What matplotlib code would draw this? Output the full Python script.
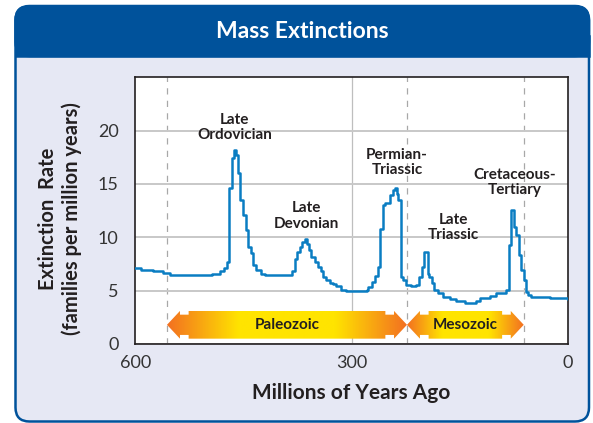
import numpy as np
import matplotlib
matplotlib.use("Agg")
import matplotlib.pyplot as plt
from matplotlib.patches import FancyBboxPatch, Rectangle, Polygon
from matplotlib.colors import LinearSegmentedColormap
from matplotlib.transforms import IdentityTransform

plt.rcParams['font.family'] = ['Lato', 'DejaVu Sans']

# extinction rate curve (millions of years ago, families per million years)
years = [600, 592, 576, 561, 552, 494, 483, 477, 473, 470, 466, 463, 460, 457,
         455, 450, 447, 443, 440, 437, 432, 426, 420, 382, 379, 376, 372, 369,
         365, 362, 359, 356, 351, 346, 343, 340, 335, 330, 326, 321, 314, 307,
         279, 277, 272, 268, 263, 260, 256, 253, 247, 243, 240, 237, 235, 232,
         229, 224, 217, 210, 206, 202, 199, 194, 193, 188, 185, 180, 173, 164,
         155, 143, 127, 122, 108, 99, 85, 81, 78, 74, 72, 68, 65, 61, 58, 55,
         51, 44, 25, 0]
rate = [7.1, 6.9, 6.8, 6.7, 6.45, 6.6, 6.8, 7.1, 7.7, 14.6, 17.4, 18.2, 17.7, 16.0,
        13.5, 12.1, 10.7, 9.1, 8.5, 7.4, 6.9, 6.6, 6.45, 6.8, 8.0, 8.65, 9.1, 9.6,
        9.8, 9.4, 8.8, 8.2, 7.7, 7.25, 6.8, 6.3, 6.0, 5.75, 5.6, 5.4, 5.1, 5.0,
        5.1, 5.35, 5.8, 6.35, 7.25, 10.8, 13.0, 13.2, 14.0, 14.4, 14.6, 14.1, 13.5, 6.3,
        6.0, 5.5, 5.4, 5.5, 6.3, 7.25, 8.65, 6.6, 6.3, 5.7, 5.1, 4.75, 4.45, 4.2,
        4.0, 3.8, 4.05, 4.3, 4.5, 4.75, 5.1, 9.3, 12.6, 11.0, 10.2, 8.3, 6.9, 6.0, 4.9, 4.6,
        4.45, 4.4, 4.28, 4.2]

events = ["Late\nOrdovician", "Late\nDevonian", "Permian-\nTriassic",
          "Late\nTriassic", "Cretaceous-\nTertiary"]
event_x = [462, 362, 237, 158, 74]
event_y = [20.3, 12.0, 17.0, 10.9, 15.1]

eras = ["Paleozoic", "Mesozoic"]
era_start = [556, 223]
era_end = [223, 61]

xticks = [600, 300, 0]
yticks = [0, 5, 10, 15, 20]

BLUE = "#00529B"
BG = "#E6E8F4"
LINE = "#0A7DC2"
INK = "#231F20"

fig = plt.figure(figsize=(5.93, 4.23), dpi=100)
fig.patch.set_facecolor("white")

# rounded panel with title band (pixel coordinates), kept behind the axes
px = IdentityTransform()
fig.add_artist(FancyBboxPatch((15.5, 1.5), 573.5, 415, boxstyle="round,pad=0,rounding_size=14",
                              transform=px, fc=BG, ec=BLUE, lw=1.8, zorder=-10))
fig.add_artist(FancyBboxPatch((15.5, 367), 573.5, 50, boxstyle="round,pad=0,rounding_size=14",
                              transform=px, fc=BLUE, ec=BLUE, lw=1.8, zorder=-9))
fig.add_artist(Rectangle((15.5, 367), 573.5, 20, transform=px, fc=BLUE, ec=BLUE, lw=1.8,
                         zorder=-9))
fig.text(0.51, 1 - 31 / 423, "Mass Extinctions", color="white", fontsize=16.5,
         fontweight="bold", ha="center", va="center")

ax = fig.add_axes([135.3 / 593, 1 - 344 / 423, 432.4 / 593, 266.7 / 423])
ax.set_facecolor("white")

ax.yaxis.grid(True, color="#C8C8C8", lw=1.4, zorder=0)
ax.axvline(300, color="#BEBEBE", lw=0.9, zorder=0)
for b in sorted(set(era_start + era_end)):
    ax.axvline(b, color="#A8A8A8", lw=0.9, ls=(0, (5, 5)), zorder=1)

ax.plot(years, rate, drawstyle="steps-post", color=LINE, lw=1.8, zorder=3)

for name, x, y in zip(events, event_x, event_y):
    ax.text(x, y, name, ha="center", va="center", fontsize=11, color=INK,
            fontweight="bold", linespacing=1.1)

# era arrows with orange-yellow-orange gradient
cmap = LinearSegmentedColormap.from_list(
    "era", [(0, "#F37021"), (0.3, "#FFE400"), (0.7, "#FFE400"), (1, "#F37021")])
grad = np.linspace(0, 1, 256).reshape(1, -1)
top, bot, notch = 3.1, 0.5, 0.35
mid = (top + bot) / 2
head, gap = 18, 30
for name, s, e in zip(eras, era_start, era_end):
    pts = [(s, mid), (s - head, top), (s - head, top - notch), (s - gap, top - notch),
           (s - gap, top), (e + gap, top), (e + gap, top - notch), (e + head, top - notch),
           (e + head, top), (e, mid), (e + head, bot), (e + head, bot + notch),
           (e + gap, bot + notch), (e + gap, bot), (s - gap, bot), (s - gap, bot + notch),
           (s - head, bot + notch), (s - head, bot)]
    poly = Polygon(pts, closed=True, fc="none", ec="none")
    ax.add_patch(poly)
    im = ax.imshow(grad, extent=[s, e, bot, top], cmap=cmap, aspect="auto", zorder=2)
    im.set_clip_path(poly)
    ax.text((s + e) / 2, mid, name, ha="center", va="center", fontsize=11,
            color=INK, fontweight="bold", zorder=4)

ax.set_xlim(600, 0)
ax.set_ylim(0, 25)
ax.set_xticks(xticks)
ax.set_yticks(yticks)
ax.tick_params(length=0, labelsize=13, labelcolor="#333333")
ax.tick_params(axis="x", pad=8)
ax.tick_params(axis="y", pad=12)
for sp in ax.spines.values():
    sp.set_color(INK)
    sp.set_linewidth(1.2)

ax.set_xlabel("Millions of Years Ago", fontsize=15, fontweight="bold", color=INK)
ax.xaxis.set_label_coords(0.5, -0.184)
ax.xaxis.label.set_va("center")
ax.set_ylabel("Extinction  Rate\n(families per million years)", fontsize=14.5,
              fontweight="bold", color=INK, linespacing=1.25)
ax.yaxis.set_label_coords(-0.174, 0.47)
ax.yaxis.label.set_va("center")

fig.savefig("out.png", dpi=100, facecolor="white")
